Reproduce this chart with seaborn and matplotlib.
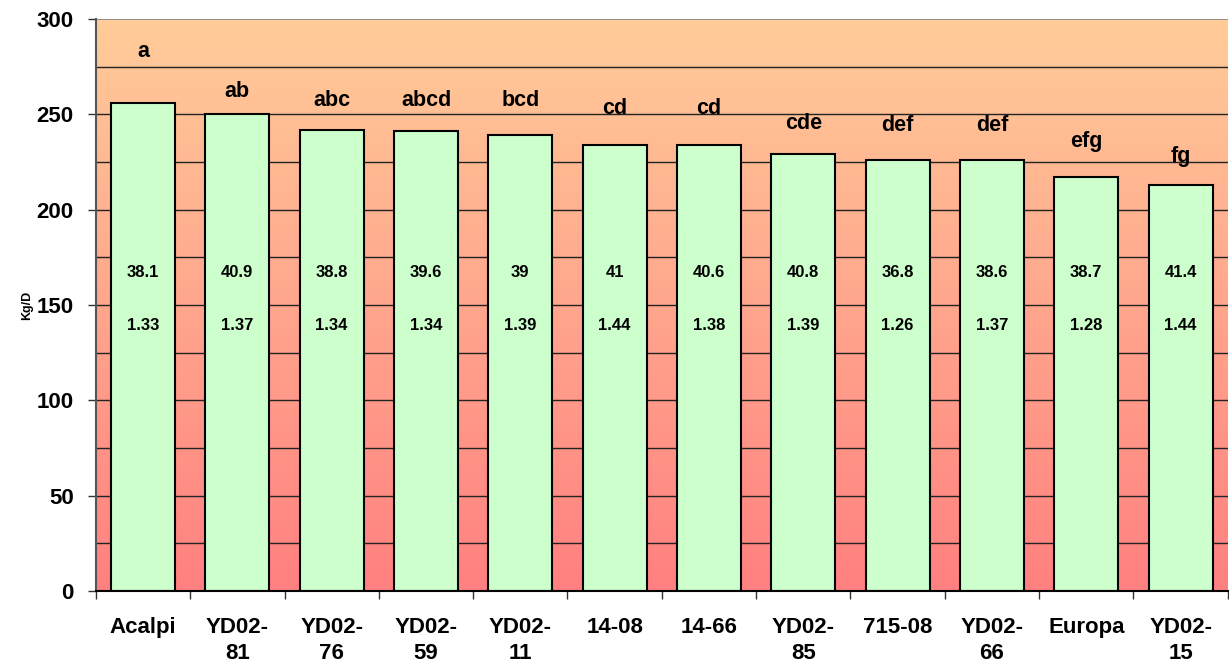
import numpy as np
import pandas as pd
import matplotlib
matplotlib.use("Agg")
import matplotlib.pyplot as plt
import seaborn as sns
from matplotlib.colors import LinearSegmentedColormap

categories = ["Acalpi", "YD02-\n81", "YD02-\n76", "YD02-\n59", "YD02-\n11", "14-08",
              "14-66", "YD02-\n85", "715-08", "YD02-\n66", "Europa", "YD02-\n15"]
yield_vals = [256, 250, 242, 241, 239, 234, 234, 229, 226, 226, 217, 213]
letters = ["a", "ab", "abc", "abcd", "bcd", "cd", "cd", "cde", "def", "def", "efg", "fg"]
row1_vals = ["38.1", "40.9", "38.8", "39.6", "39", "41", "40.6", "40.8", "36.8", "38.6", "38.7", "41.4"]
row2_vals = ["1.33", "1.37", "1.34", "1.34", "1.39", "1.44", "1.38", "1.39", "1.26", "1.37", "1.28", "1.44"]
y_ticks = [0, 50, 100, 150, 200, 250, 300]
y_label = "Kg/D"

# label heights (text placement)
letter_y = [283, 262, 257, 257, 257, 253, 253, 245, 244, 244, 236, 228]
row1_y = 167
row2_y = 139

sns.set_theme(style="white")
plt.rcParams['font.family'] = ['Liberation Sans', 'DejaVu Sans']
plt.rcParams['text.color'] = 'black'
plt.rcParams['xtick.color'] = 'black'
plt.rcParams['ytick.color'] = 'black'
plt.rcParams['axes.labelcolor'] = 'black'

df = pd.DataFrame({"cat": categories, "val": yield_vals})

fig = plt.figure(figsize=(12.29, 6.69), dpi=100)
ax = fig.add_axes([0.078, 0.1166, 0.921, 0.855])

# gradient background
cmap = LinearSegmentedColormap.from_list("bg", ["#FF8080", "#FFCC99"])
grad = np.linspace(0, 1, 256).reshape(-1, 1)
ax.imshow(grad, aspect="auto", cmap=cmap, origin="lower",
          extent=[-0.5, len(categories) - 0.5, 0, 300], zorder=0)

# gridlines
for g in range(25, 300, 25):
    ax.axhline(g, color="#222222", lw=1.0, zorder=1)
ax.axhline(300, color="#808080", lw=1.2, zorder=1)

sns.barplot(data=df, x="cat", y="val", ax=ax, color="#CCFFCC", saturation=1,
            width=0.68, edgecolor="black", linewidth=1.5, zorder=2)

ax.set_xlim(-0.5, len(categories) - 0.5)
ax.set_ylim(0, 300)
ax.set_yticks(y_ticks)
ax.set_yticklabels([str(t) for t in y_ticks], fontsize=16, fontweight="bold")
ax.set_xticks(range(len(categories)))
ax.set_xticklabels(categories, fontsize=16, fontweight="bold", linespacing=1.3)
ax.set_xticks(np.arange(-0.5, len(categories), 1), minor=True)
ax.tick_params(axis="x", which="major", length=0, pad=19)
ax.tick_params(axis="x", which="minor", length=6, width=1, color="#333333", direction="out", bottom=True)
ax.tick_params(axis="y", which="major", length=6, width=1, color="#333333", direction="out", left=True, pad=10)
for lbl in ax.get_xticklabels():
    lbl.set_verticalalignment("top")

ax.set_xlabel("")
ax.set_ylabel(y_label, fontsize=9, fontweight="bold")
ax.yaxis.set_label_coords(-0.055, 0.5)

for side in ["top", "right"]:
    ax.spines[side].set_visible(False)
ax.spines["left"].set_color("#555555")
ax.spines["left"].set_linewidth(1.5)
ax.spines["bottom"].set_color("black")
ax.spines["bottom"].set_linewidth(1.5)

for i in range(len(categories)):
    ax.text(i, letter_y[i], letters[i], ha="center", va="center", fontsize=15.5, fontweight="bold", zorder=3)
    ax.text(i, row1_y, row1_vals[i], ha="center", va="center", fontsize=12, fontweight="bold", zorder=3)
    ax.text(i, row2_y, row2_vals[i], ha="center", va="center", fontsize=12, fontweight="bold", zorder=3)

fig.savefig("out.png", dpi=100)
